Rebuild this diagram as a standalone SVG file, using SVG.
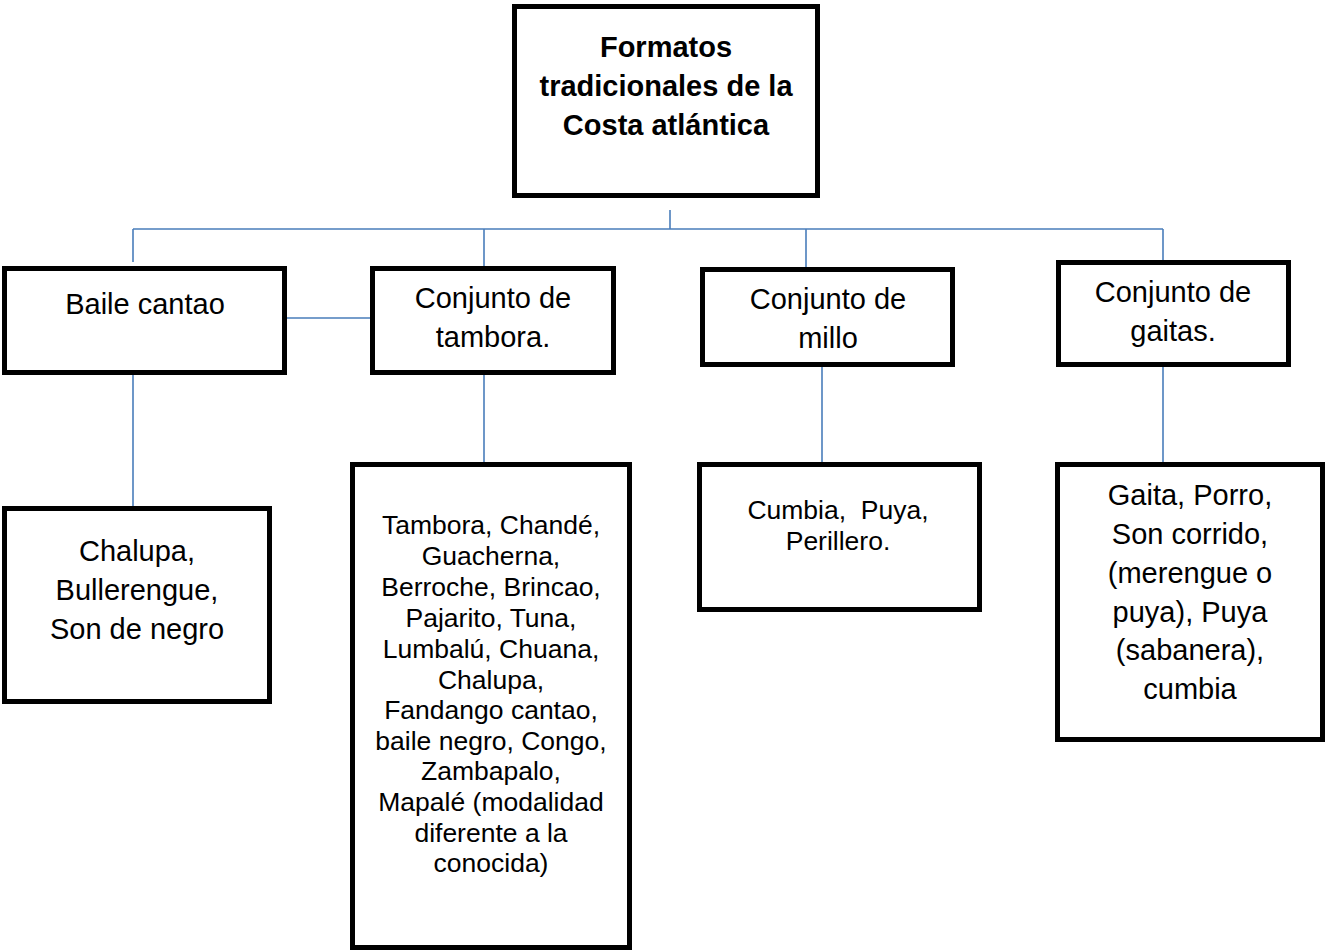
<svg xmlns="http://www.w3.org/2000/svg" width="1325" height="952" viewBox="0 0 1325 952">
<style>
.box{fill:#fff;stroke:#000;stroke-width:5}
.t{font-family:"Liberation Sans",Arial,sans-serif;font-size:29px;text-anchor:middle;fill:#000}
.s{font-size:26.5px}
.b{font-weight:bold}
.c{stroke:#4a7ebb;stroke-width:1.6;fill:none}
</style>
<rect width="1325" height="952" fill="#fff"/>
<g id="connectors">
<path class="c" d="M670 210V229M133 229H1163M133 229V262M484 229V268M806 229V268M1163 229V260M287 318H372M133 375V508M484 375V465M822 367V465M1163 367V463"/>
</g>
<g id="title">
<rect class="box" x="514.5" y="6.5" width="303" height="189"/>
<text class="t b" x="666" y="57">Formatos</text>
<text class="t b" x="666" y="96">tradicionales de la</text>
<text class="t b" x="666" y="135">Costa atlántica</text>
</g>
<g id="baile">
<rect class="box" x="4.5" y="268.5" width="280" height="104"/>
<text class="t" x="145" y="314">Baile cantao</text>
</g>
<g id="tambora">
<rect class="box" x="372.5" y="268.5" width="241" height="104"/>
<text class="t" x="493" y="308">Conjunto de</text>
<text class="t" x="493" y="347">tambora.</text>
</g>
<g id="millo">
<rect class="box" x="702.5" y="269.5" width="250" height="95"/>
<text class="t" x="828" y="309">Conjunto de</text>
<text class="t" x="828" y="348">millo</text>
</g>
<g id="gaitas">
<rect class="box" x="1058.5" y="262.5" width="230" height="102"/>
<text class="t" x="1173" y="302">Conjunto de</text>
<text class="t" x="1173" y="341">gaitas.</text>
</g>
<g id="baile-list">
<rect class="box" x="4.5" y="508.5" width="265" height="193"/>
<text class="t" x="137" y="561">Chalupa,</text>
<text class="t" x="137" y="600">Bullerengue,</text>
<text class="t" x="137" y="639">Son de negro</text>
</g>
<g id="tambora-list">
<rect class="box" x="352.5" y="464.5" width="277" height="483"/>
<text class="t s" x="491" y="534">Tambora, Chandé,</text>
<text class="t s" x="491" y="565">Guacherna,</text>
<text class="t s" x="491" y="596">Berroche, Brincao,</text>
<text class="t s" x="491" y="627">Pajarito, Tuna,</text>
<text class="t s" x="491" y="658">Lumbalú, Chuana,</text>
<text class="t s" x="491" y="689">Chalupa,</text>
<text class="t s" x="491" y="719">Fandango cantao,</text>
<text class="t s" x="491" y="750">baile negro, Congo,</text>
<text class="t s" x="491" y="780">Zambapalo,</text>
<text class="t s" x="491" y="811">Mapalé (modalidad</text>
<text class="t s" x="491" y="842">diferente a la</text>
<text class="t s" x="491" y="872">conocida)</text>
</g>
<g id="millo-list">
<rect class="box" x="699.5" y="464.5" width="280" height="145"/>
<text class="t s" x="838" y="519" xml:space="preserve">Cumbia,  Puya,</text>
<text class="t s" x="838" y="550">Perillero.</text>
</g>
<g id="gaitas-list">
<rect class="box" x="1057.5" y="464.5" width="265" height="275"/>
<text class="t" x="1190" y="505">Gaita, Porro,</text>
<text class="t" x="1190" y="544">Son corrido,</text>
<text class="t" x="1190" y="583">(merengue o</text>
<text class="t" x="1190" y="622">puya), Puya</text>
<text class="t" x="1190" y="660">(sabanera),</text>
<text class="t" x="1190" y="699">cumbia</text>
</g>
</svg>
